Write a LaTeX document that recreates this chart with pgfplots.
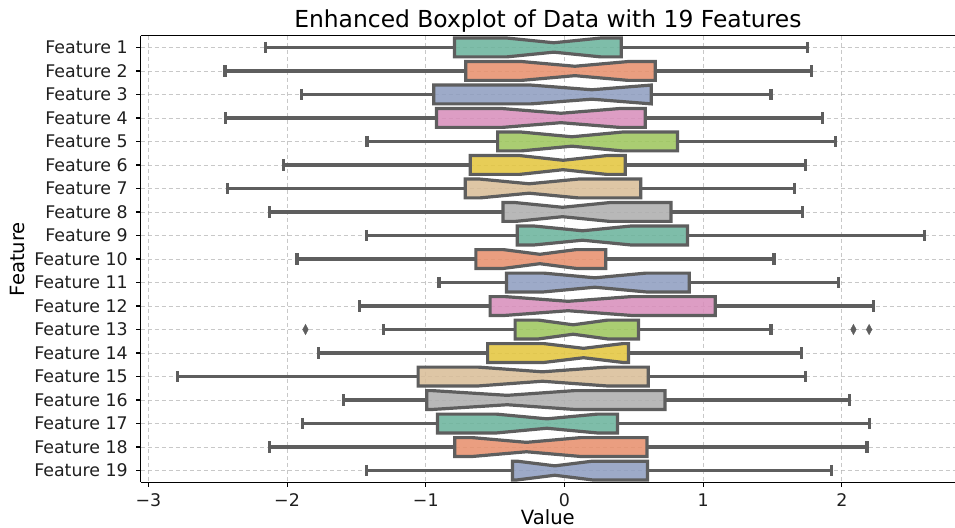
\documentclass[border=0pt]{standalone}
\usepackage{pgfplots}
\pgfplotsset{compat=1.18}
\usepackage{fontspec}
\setmainfont{DejaVu Sans}
\definecolor{lg}{RGB}{94,94,94}
\definecolor{c1}{RGB}{108,180,157}
\definecolor{c2}{RGB}{231,145,110}
\definecolor{c3}{RGB}{143,158,192}
\definecolor{c4}{RGB}{216,143,188}
\definecolor{c5}{RGB}{158,198,94}
\definecolor{c6}{RGB}{228,198,64}
\definecolor{c7}{RGB}{217,190,152}
\definecolor{c8}{RGB}{174,174,174}
\definecolor{gridc}{RGB}{176,176,176}
% #1 row, #2 colour, #3 whisker low, #4 Q1, #5 notch low, #6 median, #7 notch high, #8 Q3, #9 whisker high
\newcommand\nbox[9]{%
 \pgfmathsetmacro\ya{#1-0.4}\pgfmathsetmacro\yb{#1-0.2}\pgfmathsetmacro\yc{#1+0.2}\pgfmathsetmacro\yd{#1+0.4}%
 \addplot[draw=lg, line width=3.2bp] coordinates {(#3,#1) (#4,#1)};
 \addplot[draw=lg, line width=3.2bp] coordinates {(#8,#1) (#9,#1)};
 \addplot[draw=none, only marks, mark=|, mark size=5.6bp, mark options={draw=lg, line width=3.2bp}] coordinates {(#3,#1) (#9,#1)};
 \addplot[fill=#2, fill opacity=0.88, draw=lg, line width=3.2bp] coordinates {(#4,\ya) (#5,\ya) (#6,\yb) (#7,\ya) (#8,\ya) (#8,\yd) (#7,\yd) (#6,\yc) (#5,\yd) (#4,\yd)} -- cycle;
}
\begin{document}
\begin{tikzpicture}
\begin{axis}[
 scale only axis, width=814.3bp, height=446.6bp,
 xmin=-3.055, xmax=2.815, ymin=-0.5, ymax=18.5, y dir=reverse,
 axis y line=left, axis x line=box,
 axis line style={-, black, line width=1.1bp},
 xtick={-3,-2,-1,0,1,2}, xticklabels={−3,−2,−1,0,1,2},
 ytick={0,1,...,18},
 yticklabels={Feature 1,Feature 2,Feature 3,Feature 4,Feature 5,Feature 6,Feature 7,Feature 8,Feature 9,Feature 10,Feature 11,Feature 12,Feature 13,Feature 14,Feature 15,Feature 16,Feature 17,Feature 18,Feature 19},
 xtick pos=left, ytick pos=left,
 tick align=outside, major tick length=4.6bp,
 every tick/.style={black, line width=1.1bp},
 grid=major,
 major grid style={draw=gridc, opacity=0.7, line width=0.9bp, dash pattern=on 4.5bp off 2.5bp},
 tick label style={font=\fontsize{17.4bp}{20bp}\selectfont, text=black!88},
 yticklabel style={anchor=east, inner sep=0pt, xshift=-8.2bp},
 xticklabel style={anchor=base, inner sep=0pt, yshift=-19.5bp},
 title={Enhanced Boxplot of Data with 19 Features},
 every axis title/.style={at={(axis description cs:0.5,1)}, anchor=base, yshift=8.4bp, inner sep=0pt, font=\fontsize{23.4bp}{27bp}\selectfont},
 xlabel={Value},
 every axis x label/.style={at={(axis description cs:0.5,0)}, anchor=base, yshift=-42.3bp, inner sep=0pt, font=\fontsize{19.6bp}{23bp}\selectfont},
 ylabel={Feature},
 every axis y label/.style={at={(axis description cs:0,0.5)}, rotate=90, anchor=base, yshift=115.7bp, inner sep=0pt, font=\fontsize{19.6bp}{23bp}\selectfont},
]
\nbox{0}{c1}{-2.157}{-0.793}{-0.414}{-0.077}{0.26}{0.409}{1.750}
\nbox{1}{c2}{-2.448}{-0.712}{-0.307}{0.075}{0.457}{0.654}{1.778}
\nbox{2}{c3}{-1.898}{-0.942}{-0.242}{0.197}{0.625}{0.625}{1.488}
\nbox{3}{c4}{-2.441}{-0.923}{-0.447}{-0.026}{0.395}{0.582}{1.858}
\nbox{4}{c5}{-1.423}{-0.482}{-0.31}{0.053}{0.416}{0.814}{1.954}
\nbox{5}{c6}{-2.025}{-0.68}{-0.323}{-0.01}{0.303}{0.438}{1.740}
\nbox{6}{c7}{-2.431}{-0.716}{-0.609}{-0.255}{0.099}{0.550}{1.656}
\nbox{7}{c8}{-2.126}{-0.443}{-0.353}{-0.014}{0.325}{0.767}{1.716}
\nbox{8}{c1}{-1.430}{-0.34}{-0.214}{0.13}{0.474}{0.887}{2.597}
\nbox{9}{c2}{-1.929}{-0.639}{-0.44}{-0.178}{0.084}{0.298}{1.510}
\nbox{10}{c3}{-0.904}{-0.418}{-0.15}{0.219}{0.588}{0.899}{1.975}
\nbox{11}{c4}{-1.478}{-0.536}{-0.428}{0.026}{0.48}{1.087}{2.230}
\nbox{12}{c5}{-1.303}{-0.356}{-0.187}{0.0625}{0.31}{0.534}{1.488}
\nbox{13}{c6}{-1.775}{-0.554}{-0.147}{0.137}{0.42}{0.461}{1.706}
\nbox{14}{c7}{-2.790}{-1.055}{-0.62}{-0.159}{0.305}{0.603}{1.740}
\nbox{15}{c8}{-1.593}{-0.993}{-0.95}{-0.413}{0.07}{0.724}{2.052}
\nbox{16}{c1}{-1.891}{-0.916}{-0.49}{-0.127}{0.236}{0.382}{2.196}
\nbox{17}{c2}{-2.126}{-0.791}{-0.662}{-0.274}{0.114}{0.594}{2.181}
\nbox{18}{c3}{-1.425}{-0.375}{-0.343}{-0.07}{0.203}{0.599}{1.925}
\addplot[only marks, mark=diamond*, mark size=5.2bp, mark options={fill=lg, draw=lg, xscale=0.72}] coordinates {(-1.867,12) (2.083,12) (2.196,12)};
\end{axis}
\pgfresetboundingbox
\path[use as bounding box] ([xshift=-140.7bp,yshift=-45.7bp]current axis.south west) rectangle ([yshift=35.7bp]current axis.north east);
\end{tikzpicture}
\end{document}
